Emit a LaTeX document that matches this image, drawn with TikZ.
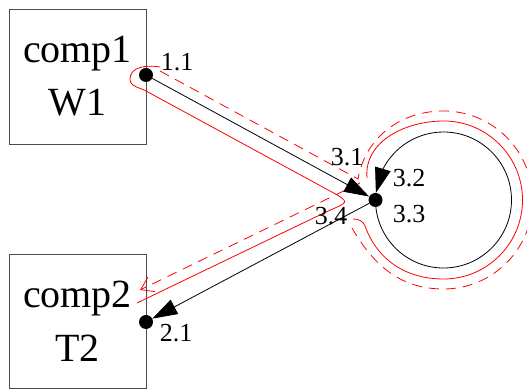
\documentclass[tikz,border=0pt]{standalone}
\usepackage{fontspec}
\setmainfont{Liberation Serif}
\usetikzlibrary{arrows.meta,bending}

\begin{document}
\begin{tikzpicture}[x=1pt,y=1pt,
	comp/.style={draw=black!70,line width=0.8pt,minimum width=137pt,minimum height=135pt,align=center,font=\fontsize{40}{53}\selectfont},
	port/.style={circle,fill=black,inner sep=0pt,minimum size=14pt},
	plabel/.style={font=\fontsize{26}{30}\selectfont,inner sep=0pt},
	conn/.style={line width=0.8pt,-{Triangle[length=25pt,width=16pt]}},
	routea/.style={red,line width=0.8pt},
	routeb/.style={red,line width=0.8pt,dash pattern=on 10pt off 7pt}]
			\useasboundingbox (0,0) rectangle (527,390);
			\node[comp] (comp1) at (77.5,313.5) {comp1\\W1};
			\node[comp,minimum height=134pt,font=\fontsize{40}{54}\selectfont] (comp2) at (77.5,69) {comp2\\T2};
			\node[port] (p11) at (146,315) {};
			\node[port] (p21) at (146,68) {};
			\node[port] (n3) at (375.5,190) {};
			\coordinate (loopc) at (443.5,190);
				\draw[routea] (160,323) to[out=170,in=90] (130,311) to[out=-90,in=151] (146,299) -- (330,199) .. controls (352,187) and (348,188) .. (326,178) -- (137,87);
				\draw[routea] (367,212) to[out=95,in=180] (443.5,269) arc[start angle=90,end angle=-90,radius=79] to[out=180,in=-70] (365,164) to[out=110,in=0] (353,171);
				\draw[routeb] (160,319) -- (358,211) to[out=80,in=180] (443.5,279) arc[start angle=90,end angle=-90,radius=89] to[out=180,in=-60] (352,162);
				\draw[routeb,-{Straight Barb[length=12pt,width=16pt]}] (360,207) -- (140,100);
			\draw[conn] (p11) -- (n3);
			\draw[conn] (n3) -- (p21);
			\draw[conn] (n3.center) arc[start angle=180,end angle=534,radius=68];
			\node[plabel] (l11) at (177,328) {1.1};
			\node[plabel] (l31) at (347,233) {3.1};
			\node[plabel] (l32) at (409,212) {3.2};
			\node[plabel] (l33) at (409,176) {3.3};
			\node[plabel] (l34) at (331,174) {3.4};
			\node[plabel] (l21) at (176,57) {2.1};
\end{tikzpicture}
\end{document}
